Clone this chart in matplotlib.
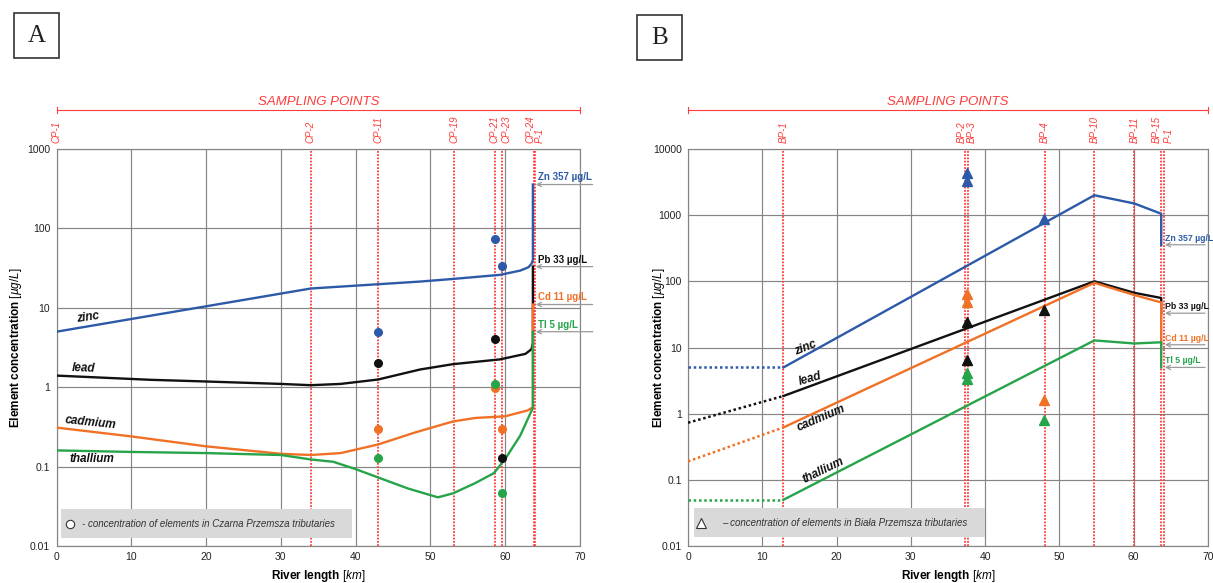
import matplotlib
matplotlib.use("Agg")
import matplotlib.pyplot as plt
from matplotlib.patches import Rectangle
from matplotlib.ticker import FixedLocator, FuncFormatter

plt.rcParams['font.family'] = ['Liberation Sans', 'DejaVu Sans']
plt.rcParams['mathtext.fontset'] = 'custom'
plt.rcParams['mathtext.rm'] = 'Liberation Sans'
plt.rcParams['mathtext.it'] = 'Liberation Sans:italic'
plt.rcParams['mathtext.bf'] = 'Liberation Sans:bold'

# ---------------- Czarna Przemsza (A) ----------------
a_sites = ['CP-1', 'CP-2', 'CP-11', 'CP-19', 'CP-21', 'CP-23', 'CP-24', 'P-1']
a_site_km = [0.0, 34.0, 43.0, 53.2, 58.7, 59.6, 63.8, 64.0]

a_zn_km = [0, 34, 48.6, 52.8, 59.3, 62.0, 63.1, 63.5, 63.7, 63.7]
a_zn = [5.0, 17.5, 21.4, 23.0, 26.0, 29.4, 32.4, 35.7, 40.0, 357]
a_pb_km = [0, 12.5, 20, 30, 34, 38, 43, 48.6, 53, 59.3, 62.7, 63.5, 63.7, 63.7]
a_pb = [1.4, 1.24, 1.18, 1.1, 1.06, 1.1, 1.25, 1.67, 1.95, 2.24, 2.63, 3.0, 3.6, 33]
a_cd_km = [0, 10, 20, 30, 34, 38, 43, 48, 53, 56, 60, 63, 63.7, 63.7]
a_cd = [0.31, 0.24, 0.18, 0.145, 0.14, 0.148, 0.19, 0.27, 0.37, 0.41, 0.43, 0.51, 0.56, 11]
a_tl_km = [0, 10, 20, 30, 34, 37, 40, 43, 47, 51, 53, 56, 58.5, 60, 62, 63.7, 63.7]
a_tl = [0.16, 0.153, 0.148, 0.14, 0.123, 0.115, 0.093, 0.073, 0.053, 0.041, 0.046,
        0.062, 0.083, 0.125, 0.245, 0.55, 5]

a_trib_km = [43.0, 58.6, 59.6]
a_trib_zn = [5.0, 73, 34]
a_trib_pb = [2.0, 4.1, 0.13]
a_trib_cd = [0.30, 0.97, 0.30]
a_trib_tl = [0.13, 1.1, 0.046]

# ---------------- Biała Przemsza (B) ----------------
b_sites = ['BP-1', 'BP-2', 'BP-3', 'BP-4', 'BP-10', 'BP-11', 'BP-15', 'P-1']
b_site_km = [12.85, 37.35, 37.7, 48.0, 54.7, 60.1, 63.7, 64.1]

b_ext_km = [0, 12.85]
b_ext_zn = [5.0, 5.0]
b_ext_pb = [0.73, 1.85]
b_ext_cd = [0.19, 0.62]
b_ext_tl = [0.05, 0.05]

b_km = [12.85, 54.7, 60.1, 63.7, 63.7]
b_zn = [5.0, 2000, 1500, 1050, 357]
b_pb = [1.85, 100, 67, 56, 33]
b_cd = [0.62, 95, 62, 48, 11]
b_tl = [0.05, 12.8, 11.5, 12.0, 5]

b_trib_km = [37.5, 37.5, 47.9]
b_trib_zn = [4300, 3250, 890]
b_trib_pb = [24, 6.4, 37]
b_trib_cd = [65, 48, 1.6]
b_trib_tl = [4.06, 3.3, 0.8]

# outlet concentrations written at the P-1 end of both rivers
end_names = ['Zn', 'Pb', 'Cd', 'Tl']
end_values = [357, 33, 11, 5]
curve_names = ['zinc', 'lead', 'cadmium', 'thallium']

ZN_C, PB_C, CD_C, TL_C = '#2c5aa8', '#111111', '#f07126', '#25a449'
COLORS = [ZN_C, PB_C, CD_C, TL_C]
RED = '#ff3b3b'
GRID = '#858585'

fig = plt.figure(figsize=(12.13, 5.83), dpi=100)
axA = fig.add_axes([0.04658, 0.06346, 0.43158, 0.68096])
axB = fig.add_axes([0.56720, 0.06346, 0.42869, 0.68096])


def style_axes(ax, ymax, ylab_x):
    ax.set_yscale('log')
    ax.set_xlim(0, 70)
    ax.set_ylim(0.01, ymax)
    ax.xaxis.set_major_locator(FixedLocator(range(0, 71, 10)))
    decades = [10.0 ** k for k in range(-2, 5) if 10.0 ** k <= ymax]
    ax.yaxis.set_major_locator(FixedLocator(decades))
    ax.yaxis.set_minor_locator(FixedLocator([]))
    ax.yaxis.set_major_formatter(FuncFormatter(lambda v, p: f'{v:g}'))
    ax.grid(True, color=GRID, lw=0.85)
    ax.set_axisbelow(True)
    for s in ax.spines.values():
        s.set_color(GRID)
        s.set_linewidth(0.85)
    ax.tick_params(length=0, labelsize=7.5, pad=4.5, colors='#222222')
    ax.set_ylabel('Element concentration $\\mathit{[µg/L]}$', fontsize=8.5,
                  fontweight='bold')
    ax.yaxis.set_label_coords(ylab_x, 0.5)
    ax.set_xlabel('River length $\\mathit{[km]}$', fontsize=8.5, fontweight='bold')
    ax.xaxis.set_label_coords(0.5, -0.055)


def sampling_header(ax, names, kms, nudges):
    ax.text(0.5, 1.119, 'SAMPLING POINTS', transform=ax.transAxes, ha='center',
            va='center', color=RED, fontsize=9.5, style='italic')
    ax.plot([0, 1], [1.098, 1.098], transform=ax.transAxes, color=RED, lw=0.8,
            clip_on=False)
    for xe in (0, 1):
        ax.plot([xe, xe], [1.091, 1.105], transform=ax.transAxes, color=RED,
                lw=0.8, clip_on=False)
    for name, km, dx in zip(names, kms, nudges):
        ax.axvline(km, color=RED, lw=1.3, ls=(0, (1, 0.8)), zorder=1.5)
        ax.annotate(name, xy=(km, 1.015), xycoords=('data', 'axes fraction'),
                    xytext=(dx, 0), textcoords='offset points', rotation=90,
                    ha='center', va='bottom', color=RED, fontsize=7,
                    style='italic', annotation_clip=False)


def end_labels(ax, tip, text_x, end_x, size):
    for name, val, c in zip(end_names, end_values, COLORS):
        ax.annotate('', xy=(tip, val), xytext=(end_x, val),
                    arrowprops=dict(arrowstyle='->,head_length=0.3,head_width=0.15',
                                    color='#9a9a9a', lw=0.9, shrinkA=0, shrinkB=0),
                    annotation_clip=False)
        ax.annotate(f'{name} {val} µg/L', xy=(text_x, val), xytext=(0, 1.5),
                    textcoords='offset points', ha='left', va='bottom', color=c,
                    fontsize=size, fontweight='bold', annotation_clip=False)


def curve_labels(ax, pos, rots):
    for name, (x, y), r in zip(curve_names, pos, rots):
        ax.text(x, y, name, rotation=r, rotation_mode='anchor', ha='center',
                va='center', fontsize=8.5, fontweight='bold', style='italic',
                color='#111111', zorder=5)


# ---------------- panel A ----------------
style_axes(axA, 1000, -0.062)
sampling_header(axA, a_sites, a_site_km, [0, 0, 0, 0, -0.5, 3, -2, 3.5])
for km, vals, c in zip([a_zn_km, a_pb_km, a_cd_km, a_tl_km], [a_zn, a_pb, a_cd, a_tl],
                       COLORS):
    axA.plot(km, vals, color=c, lw=1.7, zorder=3, solid_joinstyle='round')
for vals, c in zip([a_trib_zn, a_trib_pb, a_trib_cd, a_trib_tl], COLORS):
    axA.plot(a_trib_km, vals, 'o', color=c, ms=5.5, zorder=4, ls='none')
end_labels(axA, 64.1, 64.4, 71.7, 7)
curve_labels(axA, [(4.25, 7.5), (3.6, 1.7), (4.6, 0.353), (4.8, 0.124)], [8, -2, -6, 0])
axA.add_patch(Rectangle((0.0095, 0.02), 0.555, 0.073, transform=axA.transAxes,
                        facecolor='#d9d9d9', edgecolor='none', zorder=4))
axA.plot([0.0267], [0.055], 'o', mfc='white', mec='#333333', ms=6, mew=0.8,
         transform=axA.transAxes, zorder=5)
axA.text(0.0487, 0.055, '- concentration of elements in Czarna Przemsza tributaries',
         transform=axA.transAxes, ha='left', va='center', fontsize=7,
         style='italic', color='#333333', zorder=5)

# ---------------- panel B ----------------
style_axes(axB, 10000, -0.041)
sampling_header(axB, b_sites, b_site_km, [0, -3, 2.5, 0, 0, 0, -3, 3])
for vals, c in zip([b_ext_zn, b_ext_pb, b_ext_cd, b_ext_tl], COLORS):
    axB.plot(b_ext_km, vals, color=c, lw=1.8, ls=(0, (1, 1.1)), zorder=3)
for vals, c in zip([b_zn, b_pb, b_cd, b_tl], COLORS):
    axB.plot(b_km, vals, color=c, lw=1.7, zorder=3)
for vals, c in zip([b_trib_zn, b_trib_pb, b_trib_cd, b_trib_tl], COLORS):
    axB.plot(b_trib_km, vals, '^', color=c, ms=6.5, zorder=4, ls='none')
end_labels(axB, 64.2, 64.2, 69.6, 6.3)
curve_labels(axB, [(15.75, 9.8), (16.5, 3.4), (17.9, 0.86), (18.2, 0.137)],
             [22, 16, 23, 26])
axB.add_patch(Rectangle((0.0115, 0.023), 0.56, 0.073, transform=axB.transAxes,
                        facecolor='#d9d9d9', edgecolor='none', zorder=4))
axB.plot([0.0244], [0.058], '^', mfc='white', mec='#333333', ms=7, mew=0.8,
         transform=axB.transAxes, zorder=5)
axB.text(0.0646, 0.058, '– concentration of elements in Biała Przemsza tributaries',
         transform=axB.transAxes, ha='left', va='center', fontsize=7,
         style='italic', color='#333333', zorder=5)

# panel letters
for letter, x0, y0 in (('A', 14, 13), ('B', 637, 15)):
    w, h = 45, 45
    fig.patches.append(Rectangle((x0 / 1213, 1 - (y0 + h) / 583), w / 1213, h / 583,
                                 transform=fig.transFigure, facecolor='white',
                                 edgecolor='#333333', lw=1.2))
    fig.text((x0 + w / 2) / 1213, 1 - (y0 + h / 2) / 583, letter, ha='center',
             va='center', fontsize=18, family='Liberation Serif', color='#222222')

fig.savefig('out.png', dpi=100)
